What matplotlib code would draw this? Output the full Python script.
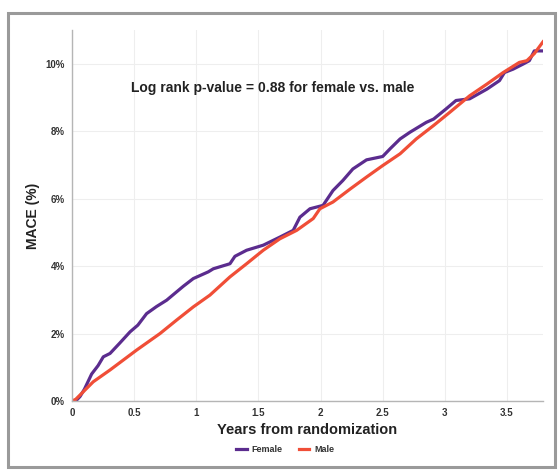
import matplotlib
matplotlib.use("Agg")
import matplotlib.pyplot as plt
from matplotlib.patches import Rectangle

plt.rcParams['font.family'] = ['Liberation Sans', 'DejaVu Sans']

female_t = [0, 0.03, 0.064, 0.10, 0.158, 0.21, 0.252, 0.306, 0.38, 0.467, 0.53, 0.60, 0.68,
            0.762, 0.83, 0.895, 0.976, 1.097, 1.137, 1.271, 1.311, 1.405, 1.539, 1.673,
            1.78, 1.834, 1.915, 2.02, 2.10, 2.18, 2.26, 2.37, 2.50, 2.56, 2.64, 2.72,
            2.85, 2.91, 3.01, 3.09, 3.20, 3.34, 3.44, 3.48, 3.55, 3.63, 3.68, 3.72, 3.79]
female_p = [0, 0.0, 0.13, 0.35, 0.80, 1.05, 1.31, 1.41, 1.70, 2.05, 2.25, 2.59, 2.80,
            2.99, 3.20, 3.40, 3.63, 3.83, 3.92, 4.07, 4.29, 4.47, 4.62, 4.86,
            5.06, 5.45, 5.70, 5.80, 6.24, 6.54, 6.88, 7.15, 7.25, 7.48, 7.77, 7.97,
            8.26, 8.36, 8.66, 8.91, 8.96, 9.25, 9.50, 9.74, 9.84, 9.99, 10.09, 10.38, 10.38]

male_t = [0, 0.03, 0.171, 0.306, 0.52, 0.708, 0.842, 0.976, 1.11, 1.271, 1.405, 1.539,
          1.673, 1.808, 1.941, 1.995, 2.10, 2.24, 2.37, 2.50, 2.64, 2.77, 2.91, 3.04,
          3.20, 3.34, 3.47, 3.60, 3.66, 3.72, 3.79]
male_p = [0, 0.05, 0.57, 0.92, 1.51, 2.00, 2.40, 2.79, 3.14, 3.68, 4.07, 4.47,
          4.81, 5.06, 5.41, 5.70, 5.90, 6.29, 6.64, 6.98, 7.33, 7.77, 8.17, 8.56,
          9.05, 9.40, 9.74, 10.04, 10.09, 10.30, 10.65]

x_ticks = [0, 0.5, 1, 1.5, 2, 2.5, 3, 3.5]
x_tick_labels = ["0", "0.5", "1", "1.5", "2", "2.5", "3", "3.5"]
y_ticks = [0, 2, 4, 6, 8, 10]
y_tick_labels = ["0%", "2%", "4%", "6%", "8%", "10%"]

fig = plt.figure(figsize=(5.58, 4.71), dpi=100)
fig.patches.append(Rectangle((8/558, 1-467/471), 547/558, 454/471, transform=fig.transFigure,
                             fill=False, edgecolor='#9a9a9a', linewidth=2.2))
ax = fig.add_axes([72/558, 1-401/471, 471/558, 371/471])

purple = '#5B2C8E'
red = '#F04E37'
ax.plot(female_t, female_p, color=purple, lw=2.3, label='Female', solid_joinstyle='round')
ax.plot(male_t, male_p, color=red, lw=2.3, label='Male', solid_joinstyle='round')

ax.set_xlim(0, 3.79)
ax.set_ylim(0, 11)
ax.set_xticks(x_ticks)
ax.set_xticklabels(x_tick_labels)
ax.set_yticks(y_ticks)
ax.set_yticklabels(y_tick_labels)
ax.tick_params(length=0, labelsize=7, colors='#333333', pad=5)
for lab in ax.get_xticklabels() + ax.get_yticklabels():
    lab.set_fontweight('bold')
ax.grid(True, color='#eeeeee', lw=0.8)
ax.set_axisbelow(True)
for s in ['top', 'right']:
    ax.spines[s].set_visible(False)
for s in ['left', 'bottom']:
    ax.spines[s].set_color('#b5b5b5')
    ax.spines[s].set_linewidth(1.0)

ax.set_xlabel('Years from randomization', fontsize=10.5, fontweight='bold', color='#222222', labelpad=4)
ax.set_ylabel('MACE (%)', fontsize=10, fontweight='bold', color='#222222', labelpad=4)

ax.text(0.475, 9.29, 'Log rank p-value = 0.88 for female vs. male', fontsize=10,
        fontweight='bold', color='#222222', ha='left', va='center')

leg = fig.legend(loc='center', bbox_to_anchor=(285/558, 1-450/471), ncol=2, frameon=False,
                 prop={'size': 6.5, 'weight': 'bold'}, handlelength=1.2, columnspacing=1.8,
                 handletextpad=0.5)
for t in leg.get_texts():
    t.set_color('#333333')

fig.savefig('out.png', dpi=100)
